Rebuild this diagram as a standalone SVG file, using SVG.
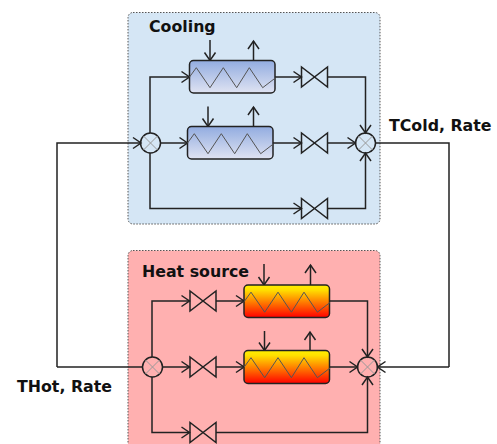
<svg xmlns="http://www.w3.org/2000/svg" width="497" height="444" viewBox="0 0 497 444">
<style>
.panel{stroke:#555;stroke-width:1;stroke-dasharray:1.5 1.5}
.line{fill:none;stroke:#222;stroke-width:1.5;marker-end:url(#a)}
.plain{fill:none;stroke:#222;stroke-width:1.5}
.hx{stroke:#222;stroke-width:1.5}
.zig{fill:none;stroke:#555;stroke-width:1}
.valve{fill:none;stroke:#222;stroke-width:1.5}
.mix{fill:none;stroke:#222;stroke-width:1.5}
.x{stroke:#999;stroke-width:1}
text{font-family:"DejaVu Sans",Verdana,sans-serif;font-weight:bold;font-size:15.8px;fill:#111}
</style>
<defs>
<linearGradient id="b" x1="0" y1="0" x2="0" y2="1"><stop offset="0" stop-color="#92ace0"/><stop offset="1" stop-color="#dfe3f2"/></linearGradient>
<linearGradient id="h" x1="0" y1="0" x2="0" y2="1"><stop offset="0" stop-color="#fff000"/><stop offset="0.15" stop-color="#ffe000"/><stop offset="1" stop-color="#ff0000"/></linearGradient>
<marker id="a" markerUnits="userSpaceOnUse" markerWidth="12" markerHeight="14" refX="10" refY="7" orient="auto"><path d="M2 1.500L10 7L2 12.500" fill="none" stroke="#222" stroke-width="1.500"/></marker>
<g id="v"><path class="valve" d="M-13 -10V10L13 -10V10Z"/></g>
<g id="m"><circle class="mix" r="10"/><path class="x" d="M-7 -7L7 7M-7 7L7 -7"/></g>
<path id="z" class="zig" d="M0 16.800L7 7.200L20.700 27.200L34 7.200L47.400 27.200L60 7.200L73.400 27.200L86 17.500"/>
</defs>
<g id="cooling-panel"><rect class="panel" x="128" y="12.500" width="252" height="211.500" rx="5" fill="#d5e6f5"/><text x="149" y="32">Cooling</text></g>
<g id="heat-panel"><rect class="panel" x="128" y="250.500" width="252" height="210" rx="5" fill="#ffb0b0"/><text x="142" y="277">Heat source</text></g>
<g id="connectors">
<path class="line" d="M57 367V143H141"/>
<path class="plain" d="M375.500 143H449V367"/>
<path class="line" d="M449 367H377.500"/>
<path class="plain" d="M57 367H142.500"/>
<path class="line" d="M150 133V77H189.500"/>
<path class="line" d="M160.500 143H187.500"/>
<path class="line" d="M150 153V208.500H301.500"/>
<path class="line" d="M275 77H301.500"/>
<path class="line" d="M273 143H301.500"/>
<path class="line" d="M327.500 77H365.500V133"/>
<path class="line" d="M327.500 143H355.500"/>
<path class="line" d="M327.500 208.500H365.500V153"/>
<path class="line" d="M210 40V60.500"/>
<path class="line" d="M253.500 60.500V41"/>
<path class="line" d="M208 106.500V126.500"/>
<path class="line" d="M253.500 126.500V107"/>
<path class="line" d="M152 357V301H189.500"/>
<path class="line" d="M162.500 367H189.500"/>
<path class="line" d="M152 377V432.500H189.500"/>
<path class="line" d="M216 301H244"/>
<path class="line" d="M216 367H244"/>
<path class="line" d="M329.500 301H367.500V357"/>
<path class="line" d="M329.500 367H357.500"/>
<path class="line" d="M216 432.500H367.500V377"/>
<path class="line" d="M264 264V285"/>
<path class="line" d="M310.500 285V265"/>
<path class="line" d="M264.500 331V350.500"/>
<path class="line" d="M310 350.500V332"/>
</g>
<g id="hx1"><rect class="hx" x="189.500" y="60.500" width="85.500" height="32.500" rx="4" fill="url(#b)"/><use href="#z" x="189.300" y="60.500"/></g>
<g id="hx2"><rect class="hx" x="187.500" y="126.500" width="85.500" height="32.500" rx="4" fill="url(#b)"/><use href="#z" x="187.300" y="126.500"/></g>
<g id="hx3"><rect class="hx" x="244" y="285" width="85.500" height="32.500" rx="4" fill="url(#h)"/><use href="#z" x="244" y="285"/></g>
<g id="hx4"><rect class="hx" x="244" y="350.500" width="85.500" height="33" rx="4" fill="url(#h)"/><use href="#z" x="244" y="350.500"/></g>
<g id="valve1"><use href="#v" x="314.500" y="77"/></g>
<g id="valve2"><use href="#v" x="314.500" y="143"/></g>
<g id="valve3"><use href="#v" x="314.500" y="208.500"/></g>
<g id="valve4"><use href="#v" x="203" y="301"/></g>
<g id="valve5"><use href="#v" x="203" y="367"/></g>
<g id="valve6"><use href="#v" x="203" y="432.500"/></g>
<g id="mix1"><use href="#m" x="150.500" y="143"/></g>
<g id="mix2"><use href="#m" x="365.500" y="143"/></g>
<g id="mix3"><use href="#m" x="152.500" y="367"/></g>
<g id="mix4"><use href="#m" x="367.500" y="367"/></g>
<g id="labels"><text x="389" y="131">TCold, Rate</text><text x="17" y="392">THot, Rate</text></g>
</svg>
